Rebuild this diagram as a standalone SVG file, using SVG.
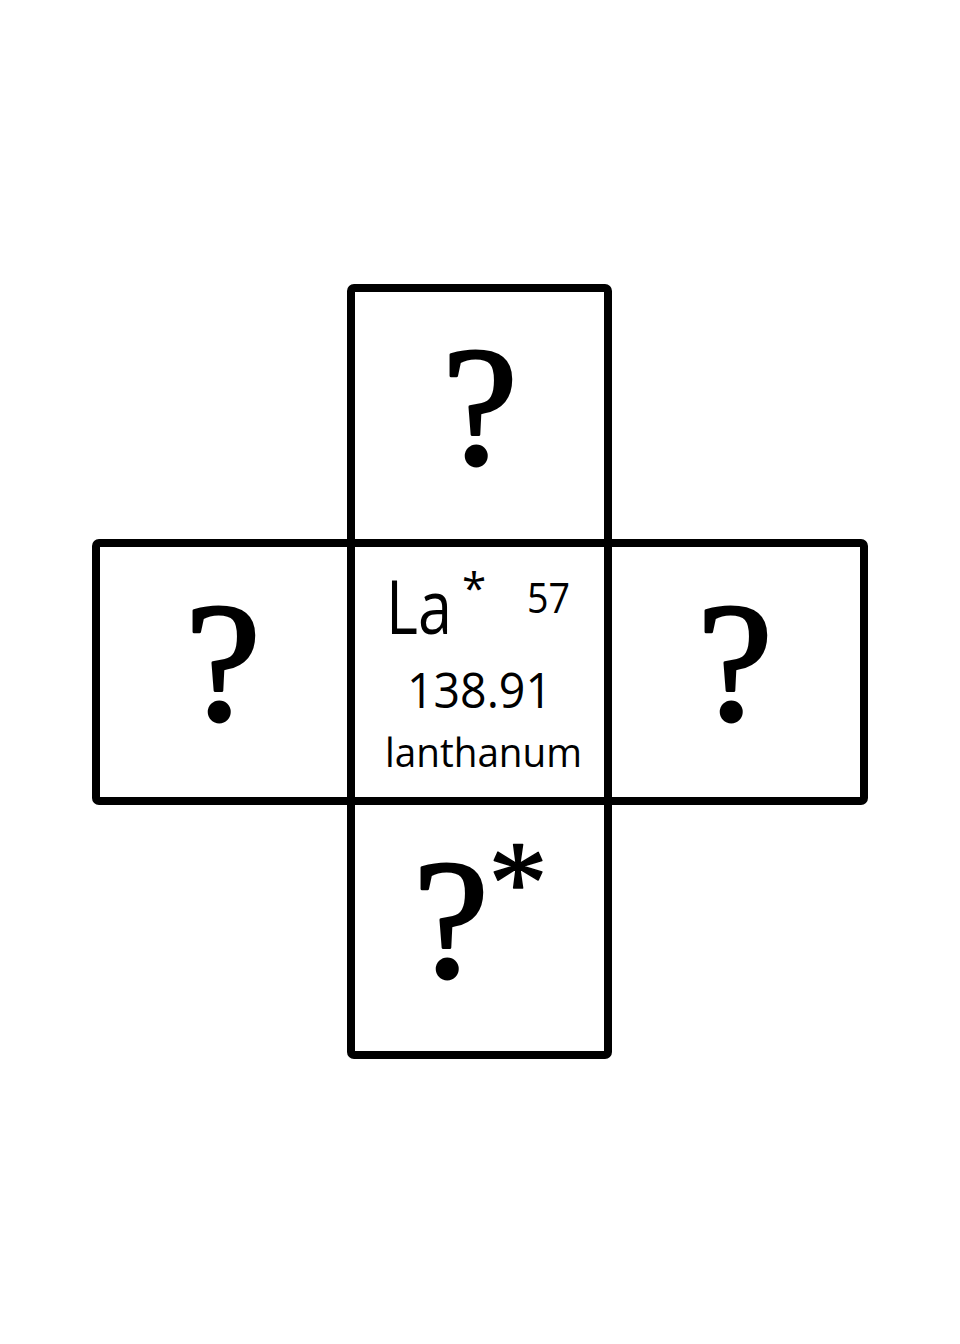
<svg xmlns="http://www.w3.org/2000/svg" width="960" height="1344" viewBox="0 0 960 1344">
<style>
.box{fill:none;stroke:#000;stroke-width:8;stroke-linejoin:round}
.q{font-family:"Liberation Serif","Times New Roman",serif;font-size:170px;fill:#000;stroke:#000;stroke-width:3;stroke-linejoin:round;text-anchor:middle}
.s{font-family:"Open Sans","Liberation Sans",sans-serif;fill:#000}
</style>
<rect width="960" height="1344" fill="#fff"/>
<g id="top"><rect class="box" x="351" y="288" width="257" height="255" rx="3"/><text class="q" x="480" y="464">?</text></g>
<g id="left"><rect class="box" x="96" y="543" width="255" height="258" rx="3"/><text class="q" x="223" y="720">?</text></g>
<g id="right"><rect class="box" x="608" y="543" width="256" height="258" rx="3"/><text class="q" x="735" y="720">?</text></g>
<g id="bottom"><rect class="box" x="351" y="801" width="257" height="254" rx="3"/><text class="q" x="451" y="977">?<tspan x="518" y="922" style="font-size:118px;stroke-width:1.5px">*</tspan></text></g>
<g id="center"><rect class="box" x="351" y="543" width="257" height="258" rx="3"/>
<text class="s" x="386" y="634" font-size="75"><tspan textLength="66" lengthAdjust="spacingAndGlyphs">La</tspan><tspan x="462" y="604" font-size="44">*</tspan></text>
<text class="s" x="527" y="613" font-size="42" textLength="43" lengthAdjust="spacingAndGlyphs">57</text>
<text class="s" x="407" y="708" font-size="49" textLength="145" lengthAdjust="spacingAndGlyphs">138.91</text>
<text class="s" x="385" y="767" font-size="40" textLength="197" lengthAdjust="spacingAndGlyphs">lanthanum</text>
</g>
<g id="connectors"></g>
</svg>
